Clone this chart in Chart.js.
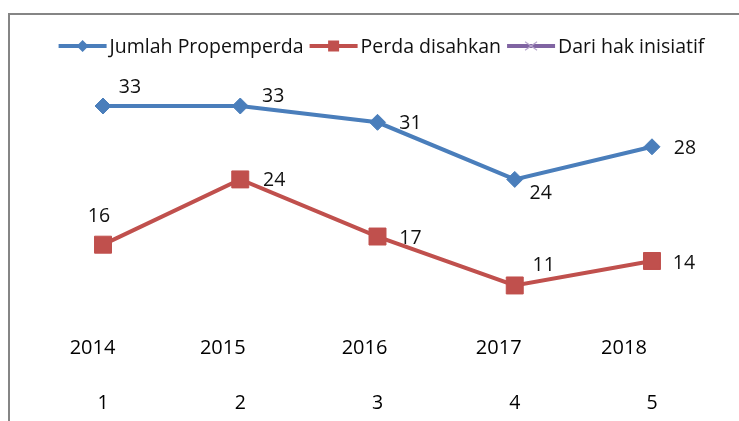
<!DOCTYPE html>
<html><head><meta charset="utf-8">
<script src="https://cdn.jsdelivr.net/npm/chart.js@4.4.1/dist/chart.umd.min.js"></script>
<style>
html,body{margin:0;padding:0;background:#fff;width:739px;height:421px;overflow:hidden;}
#frame{position:absolute;left:8px;top:13px;right:-5px;bottom:-5px;border-left:2px solid #858585;border-top:2px solid #858585;}
canvas{position:absolute;left:0;top:0;}
</style></head><body>
<div id="frame"></div>
<canvas id="c" width="739" height="421"></canvas>
<script>
const categories = ['1', '2', '3', '4', '5'];
const years = ['2014', '2015', '2016', '2017', '2018'];
const jumlahPropemperda = [33, 33, 31, 24, 28];
const perdaDisahkan = [16, 24, 17, 11, 14];
const dariHakInisiatif = [null, null, null, null, null];
const seriesNames = ['Jumlah Propemperda', 'Perda disahkan', 'Dari hak inisiatif'];

const BLUE = '#4A7EBB', RED = '#C0504D', PURPLE = '#8064A2';
const FONT = '"Open Sans", "Noto Sans", sans-serif';

function drawMarker(ctx, style, x, y, r, color) {
  ctx.save();
  ctx.fillStyle = color; ctx.strokeStyle = color;
  ctx.beginPath();
  if (style === 'diamond') {
    ctx.moveTo(x - r, y); ctx.lineTo(x, y - r); ctx.lineTo(x + r, y); ctx.lineTo(x, y + r); ctx.closePath(); ctx.fill();
  } else if (style === 'square') {
    ctx.rect(x - r, y - r, 2 * r, 2 * r); ctx.fill();
  } else {
    ctx.lineWidth = 1.2; ctx.strokeStyle = '#B7A6CC';
    ctx.moveTo(x - r, y - r * 0.7); ctx.lineTo(x + r, y + r * 0.7);
    ctx.moveTo(x - r, y + r * 0.7); ctx.lineTo(x + r, y - r * 0.7); ctx.stroke();
  }
  ctx.restore();
}

const legendPlugin = {
  id: 'excelLegend',
  afterDraw(chart, args, opts) {
    const ctx = chart.ctx;
    ctx.save();
    ctx.font = '19.5px ' + FONT;
    ctx.textBaseline = 'middle';
    const lineLen = 48, gapText = 3, gapItem = 6;
    const items = chart.data.datasets.map((d, i) => ({
      text: d.label, color: d.borderColor, marker: opts.markers[i], w: ctx.measureText(d.label).width
    }));
    let total = items.reduce((s, it) => s + lineLen + gapText + it.w, 0) + gapItem * (items.length - 1);
    let x = opts.centerX - total / 2;
    const y = opts.y;
    items.forEach(it => {
      ctx.strokeStyle = it.color; ctx.lineWidth = 4; ctx.lineCap = 'butt';
      ctx.beginPath(); ctx.moveTo(x, y); ctx.lineTo(x + lineLen, y); ctx.stroke();
      drawMarker(ctx, it.marker, x + lineLen / 2, y, it.marker === 'square' ? 5.5 : 6, it.color);
      x += lineLen + gapText;
      ctx.fillStyle = '#111';
      ctx.textAlign = 'left';
      ctx.fillText(it.text, x, y + 1);
      x += it.w + gapItem;
    });
    ctx.restore();
  }
};

const labelsPlugin = {
  id: 'valueLabels',
  afterDatasetsDraw(chart, args, opts) {
    const ctx = chart.ctx;
    ctx.save();
    ctx.font = '19.5px ' + FONT;
    ctx.fillStyle = '#111';
    ctx.textAlign = 'center';
    ctx.textBaseline = 'middle';
    chart.data.datasets.forEach((ds, di) => {
      const meta = chart.getDatasetMeta(di);
      const offs = opts.offsets[di];
      if (!offs) return;
      meta.data.forEach((pt, i) => {
        const v = ds.data[i];
        if (v === null || v === undefined) return;
        ctx.fillText(String(v), pt.x + offs[i][0], pt.y + offs[i][1]);
      });
    });
    // year labels just above the category axis
    const xs = chart.scales.x, ys = chart.scales.y;
    const y0 = ys.getPixelForValue(0);
    ctx.font = '20px ' + FONT;
    ctx.fillStyle = '#000';
    years.forEach((yr, i) => {
      ctx.fillText(yr, xs.getPixelForValue(i) + opts.yearShift[i], y0 - 27);
    });
    ctx.restore();
  }
};

new Chart(document.getElementById('c'), {
  type: 'line',
  data: {
    labels: categories,
    datasets: [
      { label: seriesNames[0], data: jumlahPropemperda, borderColor: BLUE, backgroundColor: BLUE,
        borderWidth: 4, pointStyle: 'rectRot', pointRadius: 8, pointBorderWidth: 1,
        pointBackgroundColor: BLUE, pointBorderColor: BLUE, tension: 0 },
      { label: seriesNames[1], data: perdaDisahkan, borderColor: RED, backgroundColor: RED,
        borderWidth: 4, pointStyle: 'rect', pointRadius: 12, pointBorderWidth: 1,
        pointBackgroundColor: RED, pointBorderColor: RED, tension: 0 },
      { label: seriesNames[2], data: dariHakInisiatif, borderColor: PURPLE, backgroundColor: PURPLE,
        borderWidth: 4, pointStyle: 'crossRot', pointRadius: 6, tension: 0 }
    ]
  },
  options: {
    responsive: false,
    animation: false,
    layout: { padding: { left: 34.4, right: 18.4, top: 48.9, bottom: 0 } },
    scales: {
      x: {
        type: 'category', offset: true,
        grid: { display: false, drawTicks: false },
        border: { display: false },
        ticks: { color: '#000', font: { family: FONT, size: 19.5 }, padding: 17, maxRotation: 0, autoSkip: false },
        afterFit(scale) { scale.height = 45.8; }
      },
      y: { display: false, min: 0, max: 40 }
    },
    plugins: {
      legend: { display: false },
      tooltip: { enabled: false },
      excelLegend: { centerX: 381.5, y: 46, markers: ['diamond', 'square', 'cross'] },
      valueLabels: {
        offsets: [
          [[27, -19], [33, -10], [33, 1.5], [26, 14], [33, 2]],
          [[-4, -28], [34, 1], [33, 1.5], [29, -20], [32, 2]]
        ],
        yearShift: [-10.5, -17.5, -13, -16, -28]
      }
    }
  },
  plugins: [legendPlugin, labelsPlugin]
});
</script>
</body></html>
